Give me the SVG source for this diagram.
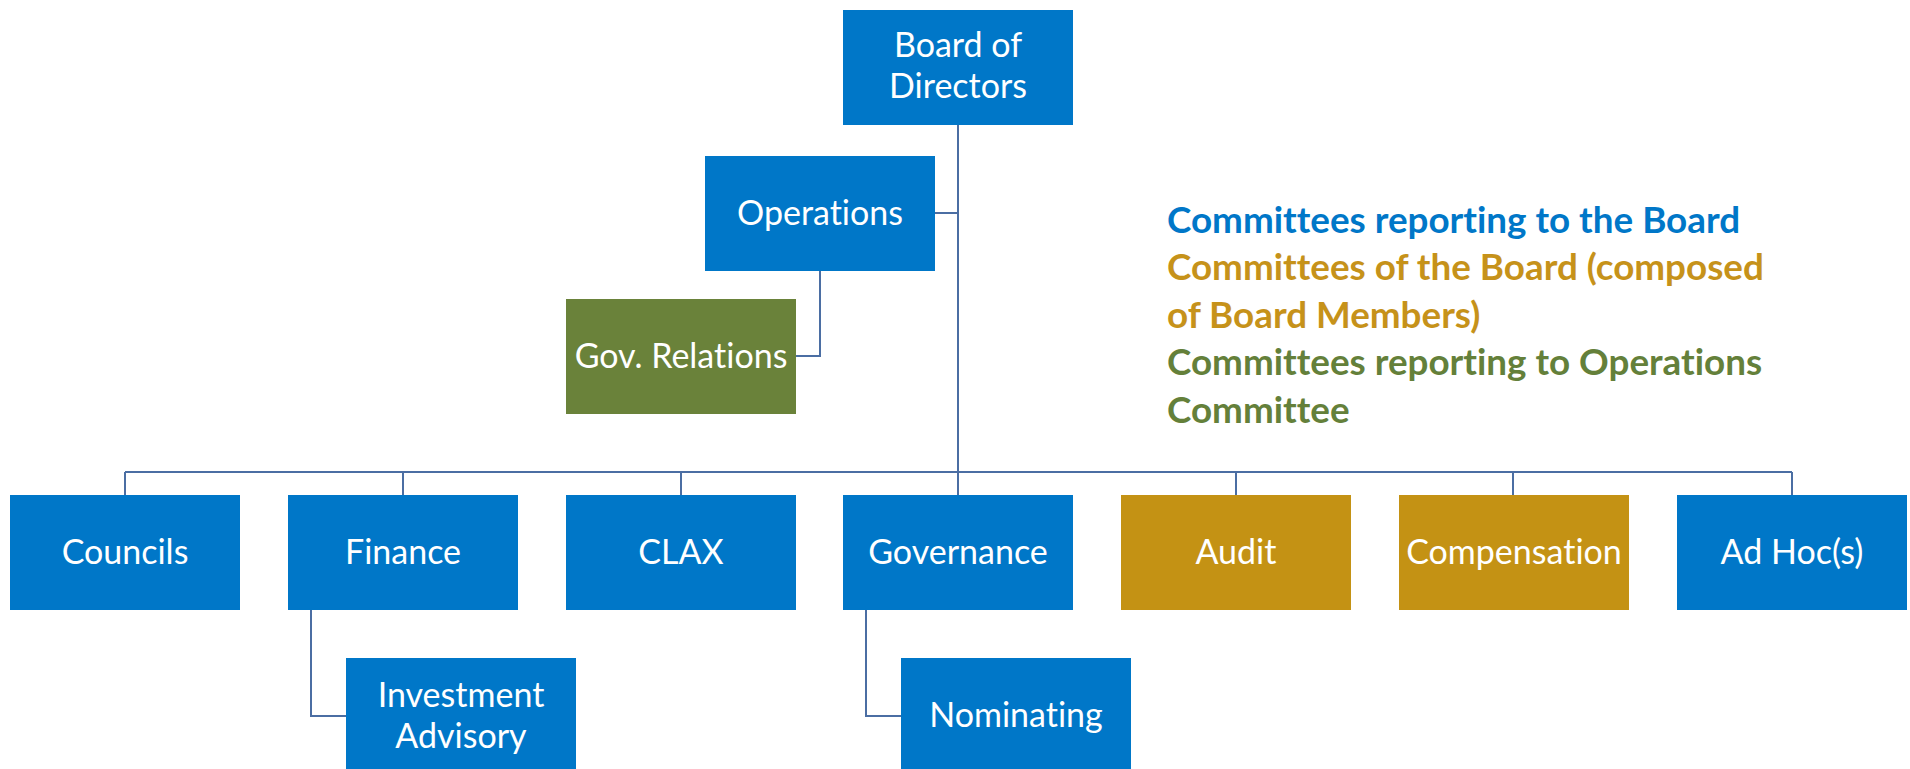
<svg xmlns="http://www.w3.org/2000/svg" width="1910" height="769" viewBox="0 0 1910 769">
<style>
.box{stroke:none}
.blue{fill:#0077c8}
.gold{fill:#c49214}
.green{fill:#6a823a}
.lbl{font-family:Lato,"Liberation Sans",sans-serif;font-size:34px;fill:#ffffff;text-anchor:middle;font-variant-ligatures:none}
.conn{fill:none;stroke:#4b6ea3;stroke-width:2}
.leg{font-family:Lato,"Liberation Sans",sans-serif;font-size:36.8px;font-weight:bold;font-variant-ligatures:none}
</style>
<rect width="1910" height="769" fill="#ffffff"/>
<g id="connectors">
<path class="conn" d="M958,125V495"/>
<path class="conn" d="M935,213H958"/>
<path class="conn" d="M820,271V356H796"/>
<path class="conn" d="M125,472H1792"/>
<path class="conn" d="M125,472V495M403,472V495M681,472V495M1236,472V495M1513,472V495M1792,472V495"/>
<path class="conn" d="M311,610V716H346"/>
<path class="conn" d="M866,610V716H901"/>
</g>
<g id="board"><rect class="box blue" x="843" y="10" width="230" height="115"/><text class="lbl" x="958" y="57">Board of</text><text class="lbl" x="958" y="98">Directors</text></g>
<g id="operations"><rect class="box blue" x="705" y="156" width="230" height="115"/><text class="lbl" x="820" y="225">Operations</text></g>
<g id="govrelations"><rect class="box green" x="566" y="299" width="230" height="115"/><text class="lbl" x="681" y="368">Gov. Relations</text></g>
<g id="councils"><rect class="box blue" x="10" y="495" width="230" height="115"/><text class="lbl" x="125" y="564">Councils</text></g>
<g id="finance"><rect class="box blue" x="288" y="495" width="230" height="115"/><text class="lbl" x="403" y="564">Finance</text></g>
<g id="clax"><rect class="box blue" x="566" y="495" width="230" height="115"/><text class="lbl" x="681" y="564">CLAX</text></g>
<g id="governance"><rect class="box blue" x="843" y="495" width="230" height="115"/><text class="lbl" x="958" y="564">Governance</text></g>
<g id="audit"><rect class="box gold" x="1121" y="495" width="230" height="115"/><text class="lbl" x="1236" y="564">Audit</text></g>
<g id="compensation"><rect class="box gold" x="1399" y="495" width="230" height="115"/><text class="lbl" x="1514" y="564">Compensation</text></g>
<g id="adhoc"><rect class="box blue" x="1677" y="495" width="230" height="115"/><text class="lbl" x="1792" y="564">Ad Hoc(s)</text></g>
<g id="investment"><rect class="box blue" x="346" y="658" width="230" height="115"/><text class="lbl" x="461" y="707">Investment</text><text class="lbl" x="461" y="748">Advisory</text></g>
<g id="nominating"><rect class="box blue" x="901" y="658" width="230" height="115"/><text class="lbl" x="1016" y="727">Nominating</text></g>
<g id="legend">
<text class="leg" x="1167" y="233" fill="#0077c8">Committees reporting to the Board</text>
<text class="leg" x="1167" y="280" fill="#c6921a">Committees of the Board (composed</text>
<text class="leg" x="1167" y="328" fill="#c6921a">of Board Members)</text>
<text class="leg" x="1167" y="375" fill="#64803a">Committees reporting to Operations</text>
<text class="leg" x="1167" y="423" fill="#64803a">Committee</text>
</g>
</svg>
